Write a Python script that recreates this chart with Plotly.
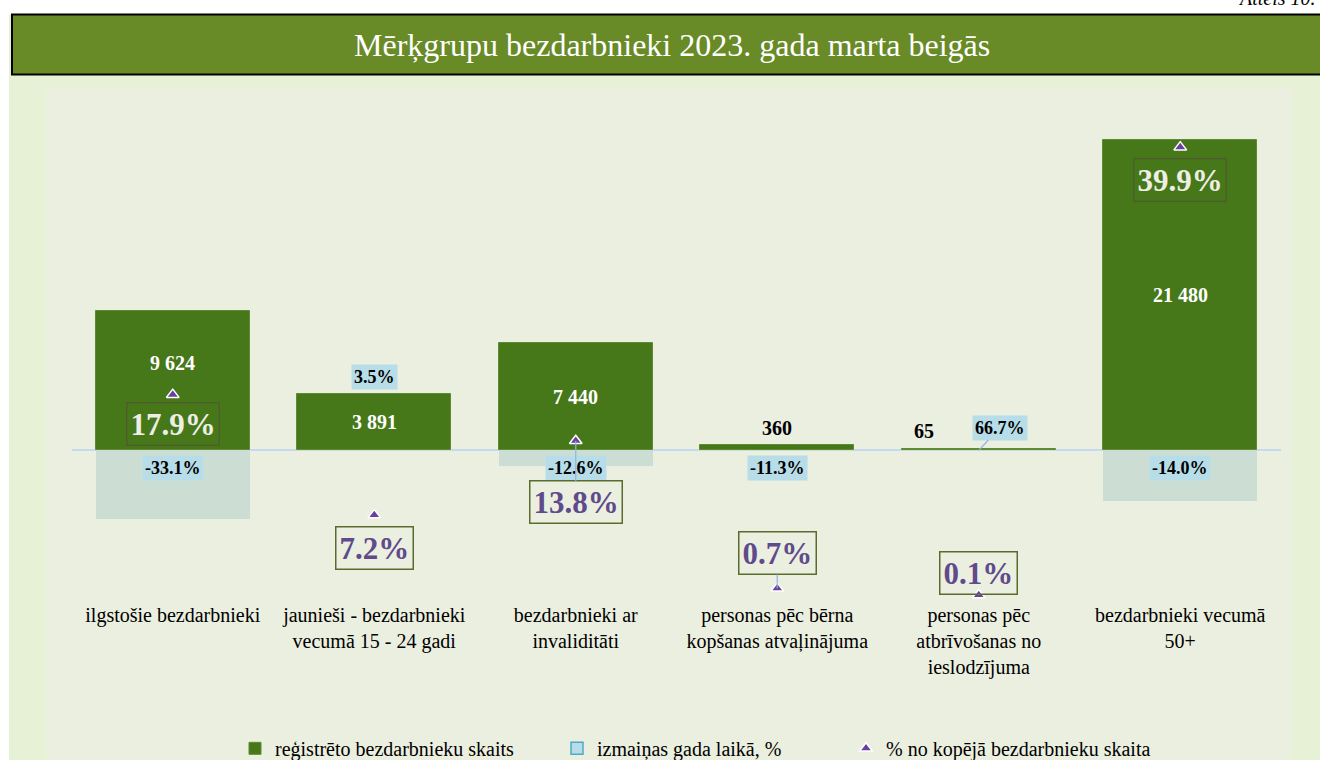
import plotly.graph_objs as go

# chart data
categories = [
    "ilgstošie bezdarbnieki",
    "jaunieši - bezdarbnieki vecumā 15 - 24 gadi",
    "bezdarbnieki ar invaliditāti",
    "personas pēc bērna kopšanas atvaļinājuma",
    "personas pēc atbrīvošanas no ieslodzījuma",
    "bezdarbnieki vecumā 50+",
]
tick_labels = [
    "ilgstošie bezdarbnieki",
    "jaunieši - bezdarbnieki<br>vecumā 15 - 24 gadi",
    "bezdarbnieki ar<br>invaliditāti",
    "personas pēc bērna<br>kopšanas atvaļinājuma",
    "personas pēc<br>atbrīvošanas no<br>ieslodzījuma",
    "bezdarbnieki vecumā<br>50+",
]
counts = [9624, 3891, 7440, 360, 65, 21480]          # reģistrēto bezdarbnieku skaits
change_pct = [-33.1, 3.5, -12.6, -11.3, 66.7, -14.0]  # izmaiņas gada laikā, %
change_abs = [-4760, 130, -1070, -45, 26, -3500]      # izmaiņas gada laikā (skaits)
share_pct = [17.9, 7.2, 13.8, 0.7, 0.1, 39.9]         # % no kopējā bezdarbnieku skaita

FONT = "Liberation Serif"
# the page is captured 780 px tall and shrunk to 760, so lay out on a 780 canvas
W, H = 1320, 780
SY = H / 760


def fy(py):
    return py * SY


L, R = 72, 39
T = round(fy(90))
B = H - round(fy(600))
PW, PH = W - L - R, H - T - B


def px_x(px):
    return (px - L) / PW


def px_y(py):
    return (H - B - fy(py)) / PH


GREEN = "#46781A"
TEAL = "#CCDED3"
LBLUE = "#B7DDE8"
PURPLE = "#5F4B8B"

fig = go.Figure()

fig.add_trace(go.Bar(
    x=categories, y=change_abs, width=0.765,
    marker=dict(color=TEAL, line=dict(width=0)),
    showlegend=False, hoverinfo="skip",
))
fig.add_trace(go.Bar(
    x=categories, y=counts, width=0.765,
    marker=dict(color=GREEN, line=dict(color="#5E8A36", width=1)),
    name="reģistrēto bezdarbnieku skaits", legend="legend",
))
# legend entry for the change series
fig.add_trace(go.Bar(
    x=[categories[0]], y=[None],
    marker=dict(color=LBLUE, line=dict(color="#4BACC6", width=1.5)),
    name="izmaiņas gada laikā, %", legend="legend2",
))
fig.add_trace(go.Scatter(
    x=categories, y=share_pct, yaxis="y2", mode="markers",
    marker=dict(symbol="triangle-up", size=11, color="#6A3FA0",
                line=dict(color="white", width=1.5)),
    name="% no kopējā bezdarbnieku skaita", legend="legend3",
))

annotations = []

# count labels
count_inside = [True, True, True, False, False, True]
count_dy = [17, 0, 0, 4, 5, 0]
count_dx = [0, 0, 0, 0, -55, 0]
for c, v, ins, dy, dx in zip(categories, counts, count_inside, count_dy, count_dx):
    annotations.append(dict(
        x=c, y=v / 2 if ins else v, xref="x", yref="y",
        text=f"{v:,}".replace(",", " "), showarrow=False,
        yshift=fy(dy), xshift=dx, yanchor="middle" if ins else "bottom",
        font=dict(family=FONT, size=20, weight="bold",
                  color="white" if ins else "black"),
    ))

# change labels
for i, (c, p) in enumerate(zip(categories, change_pct)):
    txt = f"{p:.1f}%"
    base = dict(text=txt, xref="x", yref="y", bgcolor=LBLUE, borderpad=2,
                font=dict(family=FONT, size=18, weight="bold", color="black"))
    if i == 1:
        annotations.append(dict(base, x=c, y=counts[i], showarrow=False, yshift=fy(17)))
    elif i == 4:
        annotations.append(dict(base, x=c, y=0, showarrow=True, ax=21, ay=-fy(22),
                                arrowhead=0, arrowwidth=1.2, arrowcolor="#8EB4E3"))
    else:
        annotations.append(dict(base, x=c, y=0, showarrow=False, yshift=-fy(17)))

# share labels
share_inside = [True, False, False, False, False, True]
share_dy = [29, 32, 60, -34, -21, 32]
share_line = [False, False, True, True, True, False]
for c, s, ins, dy, ln in zip(categories, share_pct, share_inside, share_dy, share_line):
    annotations.append(dict(
        x=c, y=s, xref="x", yref="y2", text=f"{s:.1f}%",
        showarrow=True, ax=0, ay=fy(dy), arrowhead=0, arrowwidth=1.2,
        arrowcolor="#8EB4E3" if ln else "rgba(0,0,0,0)",
        bordercolor="#5B6B2E" if not ins else "#4E5E2A", borderwidth=1.5, borderpad=3,
        font=dict(family=FONT, size=31, weight="bold",
                  color="#EEEEE6" if ins else PURPLE),
    ))

# title and figure number
annotations.append(dict(
    x=px_x(672), y=px_y(42), xref="paper", yref="paper", showarrow=False,
    xanchor="center", yanchor="middle",
    text="Mērķgrupu bezdarbnieki 2023. gada marta beigās",
    font=dict(family=FONT, size=32, color="white"),
))
annotations.append(dict(
    x=px_x(1318), y=px_y(8), xref="paper", yref="paper", showarrow=False,
    xanchor="right", yanchor="bottom", text="<i>Attēls 10.</i>",
    font=dict(family=FONT, size=20, color="black"),
))

shapes = [
    dict(type="rect", xref="paper", yref="paper", layer="below",
         x0=px_x(9), x1=px_x(1325), y0=px_y(12), y1=px_y(800),
         fillcolor="#E6F1D6", line=dict(width=0)),
    dict(type="rect", xref="paper", yref="paper", layer="below",
         x0=px_x(46), x1=px_x(1293), y0=px_y(85), y1=px_y(800),
         fillcolor="#EBEFDF", line=dict(width=0)),
    dict(type="rect", xref="paper", yref="paper", layer="below",
         x0=px_x(12), x1=px_x(1330), y0=px_y(12), y1=px_y(72),
         fillcolor="#688A27", line=dict(color="black", width=2)),
]


def legend_at(px):
    return dict(
        orientation="h", x=px_x(px), xanchor="left", y=px_y(748), yanchor="middle",
        bgcolor="rgba(0,0,0,0)", font=dict(family=FONT, size=20, color="black"),
    )


fig.update_layout(
    width=W, height=H,
    margin=dict(l=L, r=R, t=T, b=B),
    paper_bgcolor="white", plot_bgcolor="rgba(0,0,0,0)",
    barmode="overlay", bargap=0,
    font=dict(family=FONT, size=20, color="black"),
    xaxis=dict(
        type="category", range=[-0.5, 5.5], tickvals=categories, ticktext=tick_labels,
        showgrid=False, showline=False, ticks="", zeroline=False,
        tickfont=dict(family=FONT, size=20, color="black"),
    ),
    yaxis=dict(
        range=[-10430, 24800], showgrid=False, showticklabels=False,
        zeroline=True, zerolinecolor="#C6D9F0", zerolinewidth=1.5,
    ),
    yaxis2=dict(
        range=[-0.44, 44.8], overlaying="y", side="right", showgrid=False,
        showticklabels=False, zeroline=False,
    ),
    legend=legend_at(235),
    legend2=legend_at(557),
    legend3=legend_at(846),
    annotations=annotations,
    shapes=shapes,
)

# no body margin, so the figure starts at the window's top-left corner
fig.write_html("out.html", config={"displayModeBar": False},
               post_script="document.body.style.margin='0';")
